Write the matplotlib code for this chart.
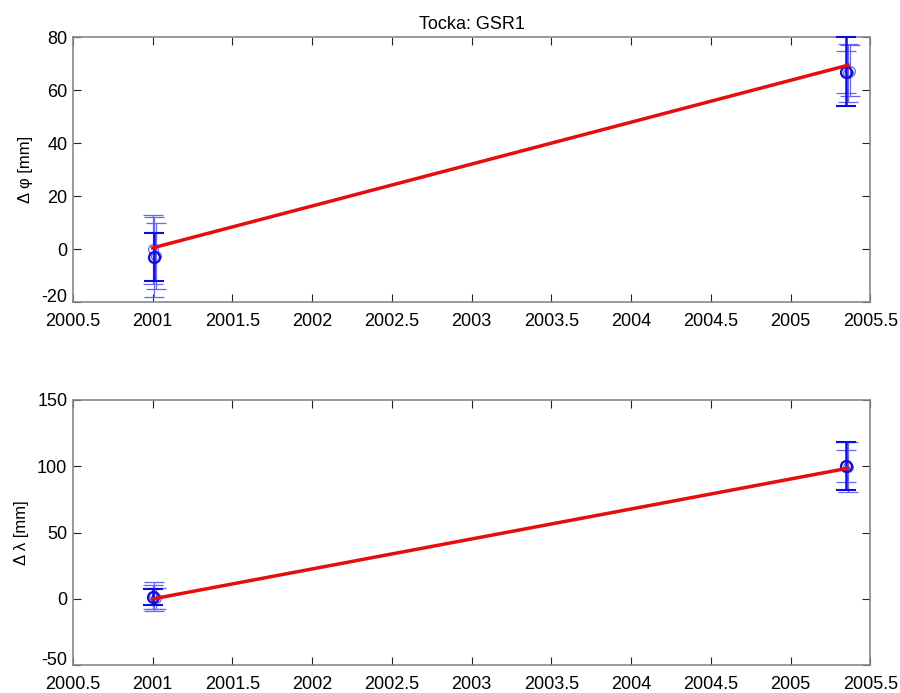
import matplotlib
matplotlib.use("Agg")
from matplotlib import pyplot as plt
import numpy as np

plt.rcParams['font.family'] = ['Liberation Sans', 'DejaVu Sans']
plt.rcParams['axes.unicode_minus'] = False

# epohe mjerenja (godine) i pomaci u mm
t_phi = [2001.00, 2001.01, 2001.02, 2005.35, 2005.36, 2005.37]
d_phi = [0.0, -3.0, -2.5, 67.0, 66.5, 67.5]
s_phi_thin = [13.0, 15.0, 12.5, 8.0, 11.0, 9.5]
s_phi_thick = [None, 9.0, None, 13.0, None, None]

t_lam = [2001.00, 2001.01, 2001.02, 2005.35, 2005.36]
d_lam = [1.5, 2.0, 0.5, 100.0, 99.5]
s_lam_thin = [9.0, 11.0, 8.0, 12.0, 19.0]
s_lam_thick = [6.0, None, None, 18.0, None]

# linearni trend (pocetak i kraj)
t_fit = [2001.0, 2005.36]
phi_fit = [0.5, 69.5]
lam_fit = [0.0, 98.5]

xticks = [2000.5, 2001, 2001.5, 2002, 2002.5, 2003, 2003.5, 2004, 2004.5, 2005, 2005.5]
xticklabels = ['2000.5', '2001', '2001.5', '2002', '2002.5', '2003', '2003.5',
               '2004', '2004.5', '2005', '2005.5']


def crtaj(ax, t, d, s_thin, s_thick, fit, ylim, yticks, ylabel):
    for ti, di, si in zip(t, d, s_thin):
        ax.errorbar(ti, di, yerr=si, fmt='o', color=(0.4, 0.4, 0.95),
                    mfc='none', ms=7, mew=0.9, elinewidth=0.9, capsize=7, capthick=0.9,
                    clip_on=False, zorder=2)
    for ti, di, si in zip(t, d, s_thick):
        if si is None:
            continue
        ax.errorbar(ti, di, yerr=si, fmt='o', color=(0.05, 0.05, 0.85),
                    mfc='none', ms=8, mew=1.5, elinewidth=1.8, capsize=7, capthick=1.8,
                    clip_on=False, zorder=3)
    ax.plot(t_fit, fit, color=(0.9, 0.05, 0.05), lw=2.5, zorder=4)
    ax.set_xlim(2000.5, 2005.5)
    ax.set_ylim(*ylim)
    ax.set_xticks(xticks)
    ax.set_xticklabels(xticklabels)
    ax.set_yticks(yticks)
    ax.set_ylabel(ylabel, fontsize=12, labelpad=6)
    ax.tick_params(direction='in', top=True, right=True, labelsize=13,
                   length=6, color='#222222')
    ax.tick_params(axis='x', pad=8)
    ax.tick_params(axis='y', pad=4)
    ylabs = ax.get_yticklabels()
    for lab in ylabs:
        lab.set_verticalalignment('center_baseline')
    # najniza oznaka malo iznad crte, da ne sjedne na oznake x osi
    ylabs[0].set_verticalalignment('baseline')
    for sp in ax.spines.values():
        sp.set_color('#888888')
        sp.set_linewidth(1.2)


fig = plt.figure(figsize=(9, 6.93), dpi=100)
ax1 = fig.add_axes([0.081, 0.564, 0.886, 0.382])
ax2 = fig.add_axes([0.081, 0.040, 0.886, 0.383])

crtaj(ax1, t_phi, d_phi, s_phi_thin, s_phi_thick, phi_fit,
      (-20, 80), [-20, 0, 20, 40, 60, 80], 'Δ φ [mm]')
crtaj(ax2, t_lam, d_lam, s_lam_thin, s_lam_thick, lam_fit,
      (-50, 150), [-50, 0, 50, 100, 150], 'Δ λ [mm]')

ax1.set_title('Tocka: GSR1', fontsize=13, pad=6)

fig.savefig('out.png', dpi=100)
